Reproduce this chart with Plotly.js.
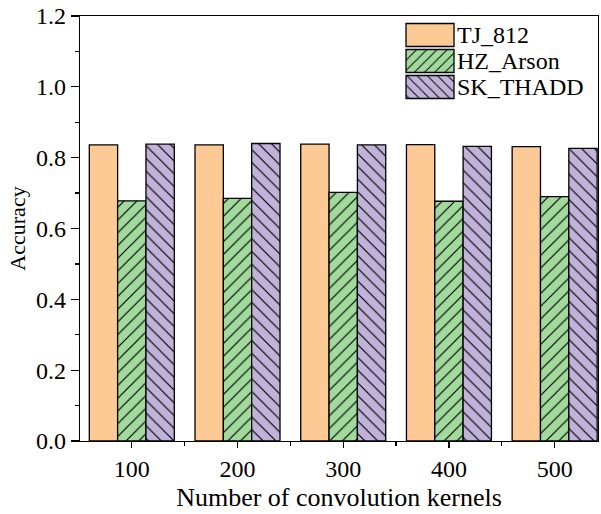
<!DOCTYPE html>
<html>
<head>
<meta charset="utf-8">
<script src="https://cdn.plot.ly/plotly-3.0.1.min.js"></script>
<style>html,body{margin:0;padding:0;background:#fff;}#chart{width:601px;height:514px;}</style>
</head>
<body>
<div id="chart"></div>
<script>
const categories = [100, 200, 300, 400, 500];
const seriesNames = ["TJ_812", "HZ_Arson", "SK_THADD"];
const tj812 = [0.836, 0.836, 0.838, 0.837, 0.831];
const hzArson = [0.678, 0.685, 0.702, 0.677, 0.690];
const skThadd = [0.838, 0.840, 0.836, 0.832, 0.826];

const colors = ["#FDC995", "#A1DA9C", "#C0B2D9"];
const shapes = ["", "/", "\\"];
const values = [tj812, hzArson, skThadd];

const data = values.map((v, i) => ({
  type: "bar",
  name: seriesNames[i],
  x: categories,
  y: v,
  marker: {
    color: colors[i],
    line: {color: "#000", width: 1.3},
    pattern: {shape: shapes[i], fgcolor: "#000", bgcolor: colors[i], size: 9, solidity: 0.13}
  }
}));

const FAM = '"Liberation Serif", "Times New Roman", serif';
const f = (s) => ({family: FAM, size: s, color: "#000"});

const layout = {
  width: 601, height: 514,
  margin: {l: 80, r: 3, t: 16, b: 73},
  paper_bgcolor: "#fff", plot_bgcolor: "#fff",
  barmode: "group", bargap: 0.196, bargroupgap: 0,
  font: f(24),
  showlegend: true,
  legend: {x: 0.612, y: 1.0, xanchor: "left", yanchor: "top", bgcolor: "rgba(0,0,0,0)",
           font: f(24), tracegroupgap: 0, itemwidth: 50},
  xaxis: {
    type: "linear", range: [51, 541],
    tickmode: "linear", tick0: 100, dtick: 100,
    showline: true, linecolor: "#000", linewidth: 1.3, mirror: true,
    ticks: "outside", ticklen: 6, tickwidth: 1.3, tickcolor: "#000",
    showgrid: false, zeroline: false,
    tickfont: f(24),
    minor: {tick0: 50, dtick: 100, ticks: "outside", ticklen: 4, tickwidth: 1.3, tickcolor: "#000", showgrid: false},
    title: {text: "Number of convolution kernels", font: f(26), standoff: 6}
  },
  yaxis: {
    range: [0, 1.2],
    tickmode: "linear", tick0: 0, dtick: 0.2, tickformat: ".1f",
    showline: true, linecolor: "#000", linewidth: 1.3, mirror: true,
    ticks: "outside", ticklen: 8, tickwidth: 1.3, tickcolor: "#000",
    showgrid: false, zeroline: false,
    tickfont: f(24),
    minor: {dtick: 0.1, tick0: 0, ticks: "outside", ticklen: 4, tickwidth: 1.3, tickcolor: "#000", showgrid: false},
    title: {text: "Accuracy", font: f(22), standoff: 4}
  }
};

const gd = document.getElementById("chart");
Plotly.newPlot(gd, data, layout, {displayModeBar: false, staticPlot: true}).then(() => {
  // enlarge legend swatches and tighten rows to match the reference look
  const items = gd.querySelectorAll(".legend .traces");
  const rowGap = 26, firstCenter = 35;
  items.forEach((g, i) => {
    const tr = g.getAttribute("transform") || "";
    const m = tr.match(/translate\(\s*([-\d.]+)[ ,]+([-\d.]+)\s*\)/);
    const x0 = m ? parseFloat(m[1]) : 0;
    const y0 = m ? parseFloat(m[2]) : 0;
    const path = g.querySelector(".legendpoints path");
    const txt = g.querySelector("text.legendtext");
    if (!path || !txt) return;
    let tb = txt.getBoundingClientRect();
    const curCenter = tb.top + tb.height / 2;
    const want = firstCenter + i * rowGap;
    g.setAttribute("transform", "translate(" + x0 + "," + (y0 + (want - curCenter)) + ")");
    tb = txt.getBoundingClientRect();
    const pb = path.getBoundingClientRect();
    const pcx = pb.left + pb.width / 2, pcy = pb.top + pb.height / 2;
    const right = (tb.left - 3) - pcx;
    const left = right - 48;
    const cy = (tb.top + tb.height / 2) - pcy;
    const top = cy - 11.5, bot = cy + 11.5;
    path.setAttribute("d", "M" + right + "," + bot + "H" + left + "V" + top + "H" + right + "Z");
  });
});
</script>
</body>
</html>
